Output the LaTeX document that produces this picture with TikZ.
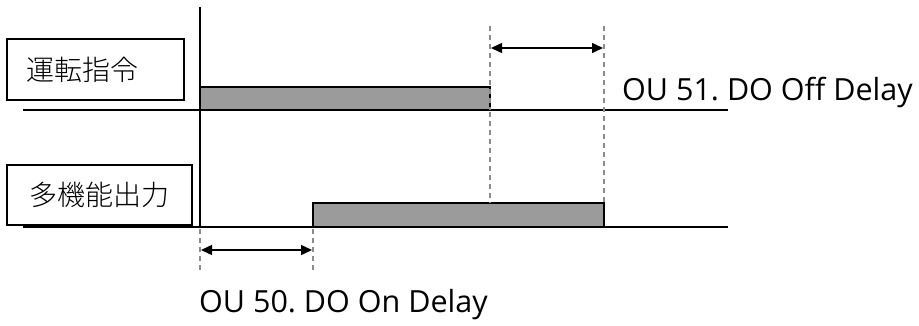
\documentclass[tikz,border=0pt]{standalone}
\usepackage{fontspec}
\setsansfont{Open Sans}
\newfontfamily\jpfont{Noto Sans CJK JP}[UprightFont=* Light]
\usetikzlibrary{arrows.meta,positioning}
\definecolor{ink}{HTML}{000000}
\definecolor{pulsegray}{HTML}{9B9B9B}
\definecolor{guidegray}{HTML}{8C8C8C}
\frenchspacing
\begin{document}
\begin{tikzpicture}[x=1pt,y=-1pt,
  namebox/.style={draw=ink,line width=1.8pt,inner sep=0pt,font=\jpfont\fontsize{28}{32}\selectfont},
  pulse/.style={draw=ink,fill=pulsegray,line width=1.5pt},
  axis/.style={ink,line width=2pt},
  guide/.style={guidegray,line width=1.3pt,dash pattern=on 5pt off 4pt},
  span/.style={ink,line width=1.5pt,{Triangle[length=11pt,width=10pt]}-{Triangle[length=11pt,width=10pt]}},
  delaylabel/.style={font=\sffamily\fontsize{30.5}{34}\selectfont,inner sep=0pt,anchor=base west}]
  \useasboundingbox (0,0) rectangle (919,325);
  % signal names
  \node[namebox,minimum width=177pt,minimum height=61pt] (run) at (95.5,69.5) {};
  \node[font=\jpfont\fontsize{28}{32}\selectfont,inner sep=0pt] (runtext) at (83,69.5) {運転指令};
  \node[namebox,minimum width=185pt,minimum height=60pt] (out) at (99.5,195) {多機能出力};
  % time points
  \coordinate (t0) at (200,110);
  \coordinate (t1) at (313,227);
  \coordinate (t2) at (490,110);
  \coordinate (t3) at (604,227);
  % pulses
  \draw[pulse] (t0) rectangle (490,87);
  \draw[pulse] (t1) rectangle (604,203);
  % base lines and axis
  \draw[axis] (23,110) -- (728,110);
  \draw[axis] (23,227) -- (728,227);
  \draw[axis] (200,7) -- (200,228);
  % guides
  \draw[guide] (200,229) -- (200,273);
  \draw[guide] (313,229) -- (313,273);
  \draw[guide] (490,26) -- (t2);
  \draw[guide] (490,112) -- (490,203);
  \draw[guide] (604,26) -- (604,203);
  % delays
  \coordinate (on0) at (201,250);
  \coordinate (on1) at (312,250);
  \coordinate (off0) at (491,48);
  \coordinate (off1) at (603,48);
  \draw[span] (on0) -- (on1);
  \draw[span] (off0) -- (off1);
  \node[delaylabel] (offlabel) at (622,100) {OU 51. DO Off Delay};
  \node[delaylabel] (onlabel) at (199,312) {OU 50. DO On Delay};
\end{tikzpicture}
\end{document}
